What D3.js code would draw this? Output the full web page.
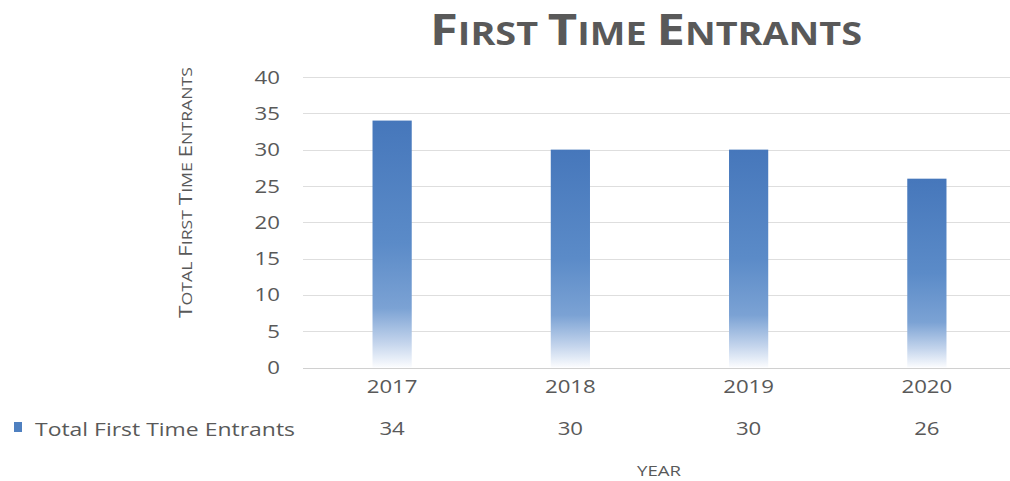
<!DOCTYPE html>
<html><head><meta charset="utf-8">
<script src="https://cdn.jsdelivr.net/npm/d3@7"></script>
<style>body{margin:0;background:#fff}svg{display:block}text{font-family:"Open Sans",sans-serif;fill:#595959}</style>
</head><body><svg id="c" width="1010" height="481"></svg>
<script>
const categories = ["2017","2018","2019","2020"];
const values = [34,30,30,26];
const yTicks = [0,5,10,15,20,25,30,35,40];
const seriesName = "Total First Time Entrants";
const titleText = "First Time Entrants";
const yTitleText = "Total First Time Entrants";
const xTitleText = "YEAR";

const SX = 1.17; // horizontal stretch of the original picture's text
const svg = d3.select("#c");
const x = d3.scaleBand().domain(categories).range([303,1016]).paddingInner(0.78).paddingOuter(0.39);
const y = d3.scaleLinear().domain([0,40]).range([367.5,77]);

const defs = svg.append("defs");
const g = defs.append("linearGradient").attr("id","bg").attr("x1",0).attr("y1",0).attr("x2",0).attr("y2",1);
g.append("stop").attr("offset","0").attr("stop-color","#4677bb");
g.append("stop").attr("offset","0.5").attr("stop-color","#5b8bc8");
g.append("stop").attr("offset","0.76").attr("stop-color","#7ba2d4");
g.append("stop").attr("offset","0.9").attr("stop-color","#c3d4ec");
g.append("stop").attr("offset","1").attr("stop-color","#fbfcfe");

// gridlines
svg.append("g").selectAll("line").data(yTicks).join("line")
  .attr("x1",303).attr("x2",1010).attr("y1",d=>Math.round(y(d))+0.5).attr("y2",d=>Math.round(y(d))+0.5)
  .attr("stroke",d=>d===0?"#d0d0d0":"#dedede").attr("stroke-width",1);

// y axis labels
const yAxis = d3.axisLeft(y).tickValues(yTicks).tickSize(0).tickPadding(0);
const ya = svg.append("g").attr("transform","translate(280,0)").call(yAxis);
ya.select(".domain").remove();
ya.selectAll("text").style("font-size","19px").style("fill","#595959").style("font-family","'Open Sans',sans-serif")
  .attr("transform",`scale(${SX},1)`);

// bars
svg.append("g").selectAll("rect").data(values).join("rect")
  .attr("x",(d,i)=>x(categories[i])).attr("width",x.bandwidth())
  .attr("y",d=>y(d)).attr("height",d=>y(0)-y(d)).attr("fill","url(#bg)");

// x axis labels
const xAxis = d3.axisBottom(x).tickSize(0).tickPadding(0);
const xa = svg.append("g").attr("transform","translate(0,379)").call(xAxis);
xa.select(".domain").remove();
xa.selectAll("text").attr("dy","0").attr("y",14).style("font-size","19px").style("fill","#595959")
  .style("font-family","'Open Sans',sans-serif").attr("transform",`scale(${SX},1)`);

// data table values
svg.append("g").selectAll("text").data(values).join("text")
  .attr("transform",(d,i)=>`translate(${x(categories[i])+x.bandwidth()/2},435) scale(${SX},1)`)
  .attr("text-anchor","middle").style("font-size","19px").text(d=>d);

// legend key
svg.append("rect").attr("x",14).attr("y",422).attr("width",8).attr("height",10).attr("fill","#4f80c0");
svg.append("text").attr("x",35).attr("y",436).style("font-size","19px")
  .attr("textLength",260).attr("lengthAdjust","spacingAndGlyphs").text(seriesName);

// small caps helper
function smallCaps(sel, str, big, small){
  str.split(/(\s+)/).forEach(word=>{
    if(/^\s+$/.test(word)){ sel.append("tspan").style("font-size",small+"px").text(" "); return; }
    sel.append("tspan").style("font-size",big+"px").text(word[0]);
    if(word.length>1) sel.append("tspan").style("font-size",small+"px").text(word.slice(1).toUpperCase());
  });
}
const title = svg.append("text").attr("x",430).attr("y",45)
  .attr("textLength",432).attr("lengthAdjust","spacingAndGlyphs")
  .style("font-weight","bold").style("fill","#595959");
smallCaps(title,titleText,43,32);

const yt = svg.append("text").attr("transform","translate(192,318) rotate(-90)")
  .attr("textLength",251).attr("lengthAdjust","spacingAndGlyphs");
smallCaps(yt,yTitleText,18,14);

svg.append("text").attr("x",637).attr("y",476)
  .attr("textLength",44).attr("lengthAdjust","spacingAndGlyphs").style("font-size","15px").text(xTitleText);
</script></body></html>
